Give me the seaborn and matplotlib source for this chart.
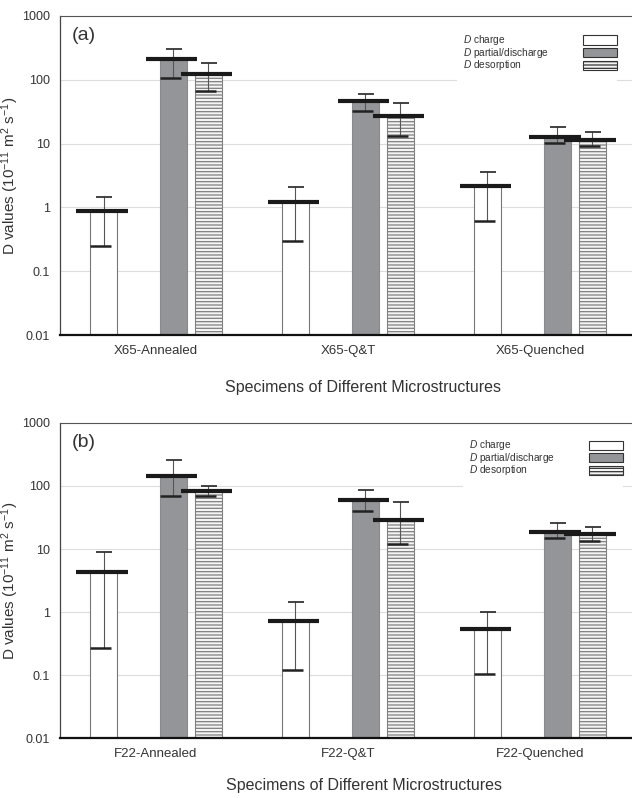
import numpy as np
import pandas as pd
import matplotlib
matplotlib.use("Agg")
import matplotlib.pyplot as plt
from matplotlib.patches import Rectangle
import seaborn as sns

# hue levels; "gap" is an empty slot between charge and the other two bars
types = ["D charge", "gap", "D partial/discharge", "D desorption"]
measured = ["D charge", "D partial/discharge", "D desorption"]

specimens_a = ["X65-Annealed", "X65-Q&T", "X65-Quenched"]
charge_a = [0.87, 1.23, 2.15]
charge_a_up = [1.45, 2.13, 3.55]
charge_a_low = [0.245, 0.295, 0.62]
partial_a = [208, 46, 12.9]
partial_a_up = [308, 61, 18.5]
partial_a_low = [107, 33, 10.1]
desorp_a = [125, 26.7, 11.4]
desorp_a_up = [186, 42.7, 15.1]
desorp_a_low = [67, 13.3, 9.3]

specimens_b = ["F22-Annealed", "F22-Q&T", "F22-Quenched"]
charge_b = [4.4, 0.72, 0.54]
charge_b_up = [9.1, 1.42, 1.02]
charge_b_low = [0.27, 0.12, 0.105]
partial_b = [146, 61, 18.8]
partial_b_up = [262, 87, 25.6]
partial_b_low = [70, 40, 15.2]
desorp_b = [82, 29, 17]
desorp_b_up = [101, 55, 22.5]
desorp_b_low = [70, 12, 13.5]

yticks = [0.01, 0.1, 1, 10, 100, 1000]
ytick_labels = ["0.01", "0.1", "1", "10", "100", "1000"]

sns.set_style("white")
plt.rcParams["font.family"] = ["Liberation Sans", "DejaVu Sans"]
plt.rcParams["mathtext.fontset"] = "custom"
plt.rcParams["mathtext.rm"] = "Liberation Sans"
plt.rcParams["mathtext.it"] = "Liberation Sans:italic"
plt.rcParams["hatch.linewidth"] = 0.9

txt = "#333333"
styles = {
    "D charge": dict(fc="white", ec="#777777", hatch=None),
    "D partial/discharge": dict(fc="#939598", ec="#8a8a8a", hatch=None),
    "D desorption": dict(fc="#f4f4f4", ec="#808080", hatch="-----"),
}
palette = {"D charge": "white", "gap": "white",
           "D partial/discharge": "#939598", "D desorption": "#f4f4f4"}


def panel(ax, specimens, means, ups, lows, letter, leg):
    rows = []
    for t, vals in zip(measured, means):
        for s, v in zip(specimens, vals):
            rows.append({"specimen": s, "type": t, "value": v})
    df = pd.DataFrame(rows)
    ax.set_yscale("log")
    sns.barplot(data=df, x="specimen", y="value", hue="type", hue_order=types,
                order=specimens, palette=palette, width=0.729, gap=0.214,
                errorbar=None, legend=False, ax=ax, linewidth=0.8)
    conts = [c for c in ax.containers if len(c) > 0]
    for t, cont, m, u, l in zip(measured, conts, means, ups, lows):
        st = styles[t]
        for i, p in enumerate(cont):
            p.set_facecolor(st["fc"])
            p.set_edgecolor(st["ec"])
            p.set_linewidth(0.8)
            if st["hatch"]:
                p.set_hatch(st["hatch"])
            xc = p.get_x() + p.get_width() / 2
            ax.vlines(xc, l[i], u[i], color="#555555", lw=0.8, zorder=4)
            ax.hlines(u[i], xc - 0.04, xc + 0.045, color="#222222", lw=1.2, zorder=4)
            ax.hlines(l[i], xc - 0.07, xc + 0.04, color="#222222", lw=1.8, zorder=4)
            ax.hlines(m[i], xc - 0.145, xc + 0.125, color="#1a1a1a", lw=3.0, zorder=5)

    ax.set_ylim(0.01, 1000)
    ax.set_xlim(-0.5, 2.5)
    ax.set_yticks(yticks)
    ax.set_yticklabels(ytick_labels)
    ax.minorticks_off()
    ax.yaxis.grid(True, color="#dddddd", lw=0.8)
    ax.set_axisbelow(True)
    ax.tick_params(axis="y", length=0, labelsize=9, colors=txt, pad=7)
    ax.tick_params(axis="x", length=0, labelsize=9.5, colors=txt, pad=7)
    ax.set_xlabel("")
    ax.set_ylabel(r"D values (10$^{-11}$ m$^{2}$ s$^{-1}$)", fontsize=11, color=txt)
    ax.yaxis.set_label_coords(-0.068, 0.5)
    ax.spines["bottom"].set_color("#111111")
    ax.spines["bottom"].set_linewidth(1.6)
    ax.spines["left"].set_color("#444444")
    ax.spines["left"].set_linewidth(0.9)
    ax.spines["top"].set_color("#555555")
    ax.spines["top"].set_linewidth(0.8)
    ax.spines["right"].set_visible(False)
    ax.text(0.02, 0.965, letter, transform=ax.transAxes, fontsize=14,
            color=txt, va="top", ha="left")

    # legend: text on the left, swatch on the right
    lx, bx, ty = leg
    ax.add_patch(Rectangle((lx - 0.01, 0.78), bx + 0.07 - lx, 0.18,
                           transform=ax.transAxes, fc="white", ec="none", zorder=6))
    labels = [r"$\it{D}$ charge", r"$\it{D}$ partial/discharge", r"$\it{D}$ desorption"]
    for k, t in enumerate(measured):
        y = ty - k * 0.040
        ax.text(lx, y, labels[k], transform=ax.transAxes, fontsize=7.3,
                color=txt, va="center", ha="left", zorder=7)
        st = styles[t]
        ax.add_patch(Rectangle((bx, y - 0.015), 0.059, 0.029, transform=ax.transAxes,
                               fc=st["fc"], ec="#333333", lw=0.8,
                               hatch=st["hatch"], zorder=7))


fig = plt.figure(figsize=(6.32, 7.98), dpi=100)
ax1 = fig.add_axes([0.095, 0.580, 0.911, 0.400])
ax2 = fig.add_axes([0.095, 0.075, 0.911, 0.395])

panel(ax1, specimens_a, [charge_a, partial_a, desorp_a],
      [charge_a_up, partial_a_up, desorp_a_up],
      [charge_a_low, partial_a_low, desorp_a_low], "(a)", (0.700, 0.908, 0.925))
panel(ax2, specimens_b, [charge_b, partial_b, desorp_b],
      [charge_b_up, partial_b_up, desorp_b_up],
      [charge_b_low, partial_b_low, desorp_b_low], "(b)", (0.710, 0.918, 0.930))

fig.text(0.575, 0.514, "Specimens of Different Microstructures", fontsize=11.5,
         color=txt, ha="center", va="center")
fig.text(0.576, 0.016, "Specimens of Different Microstructures", fontsize=11.5,
         color=txt, ha="center", va="center")

fig.savefig("out.png", dpi=100)
